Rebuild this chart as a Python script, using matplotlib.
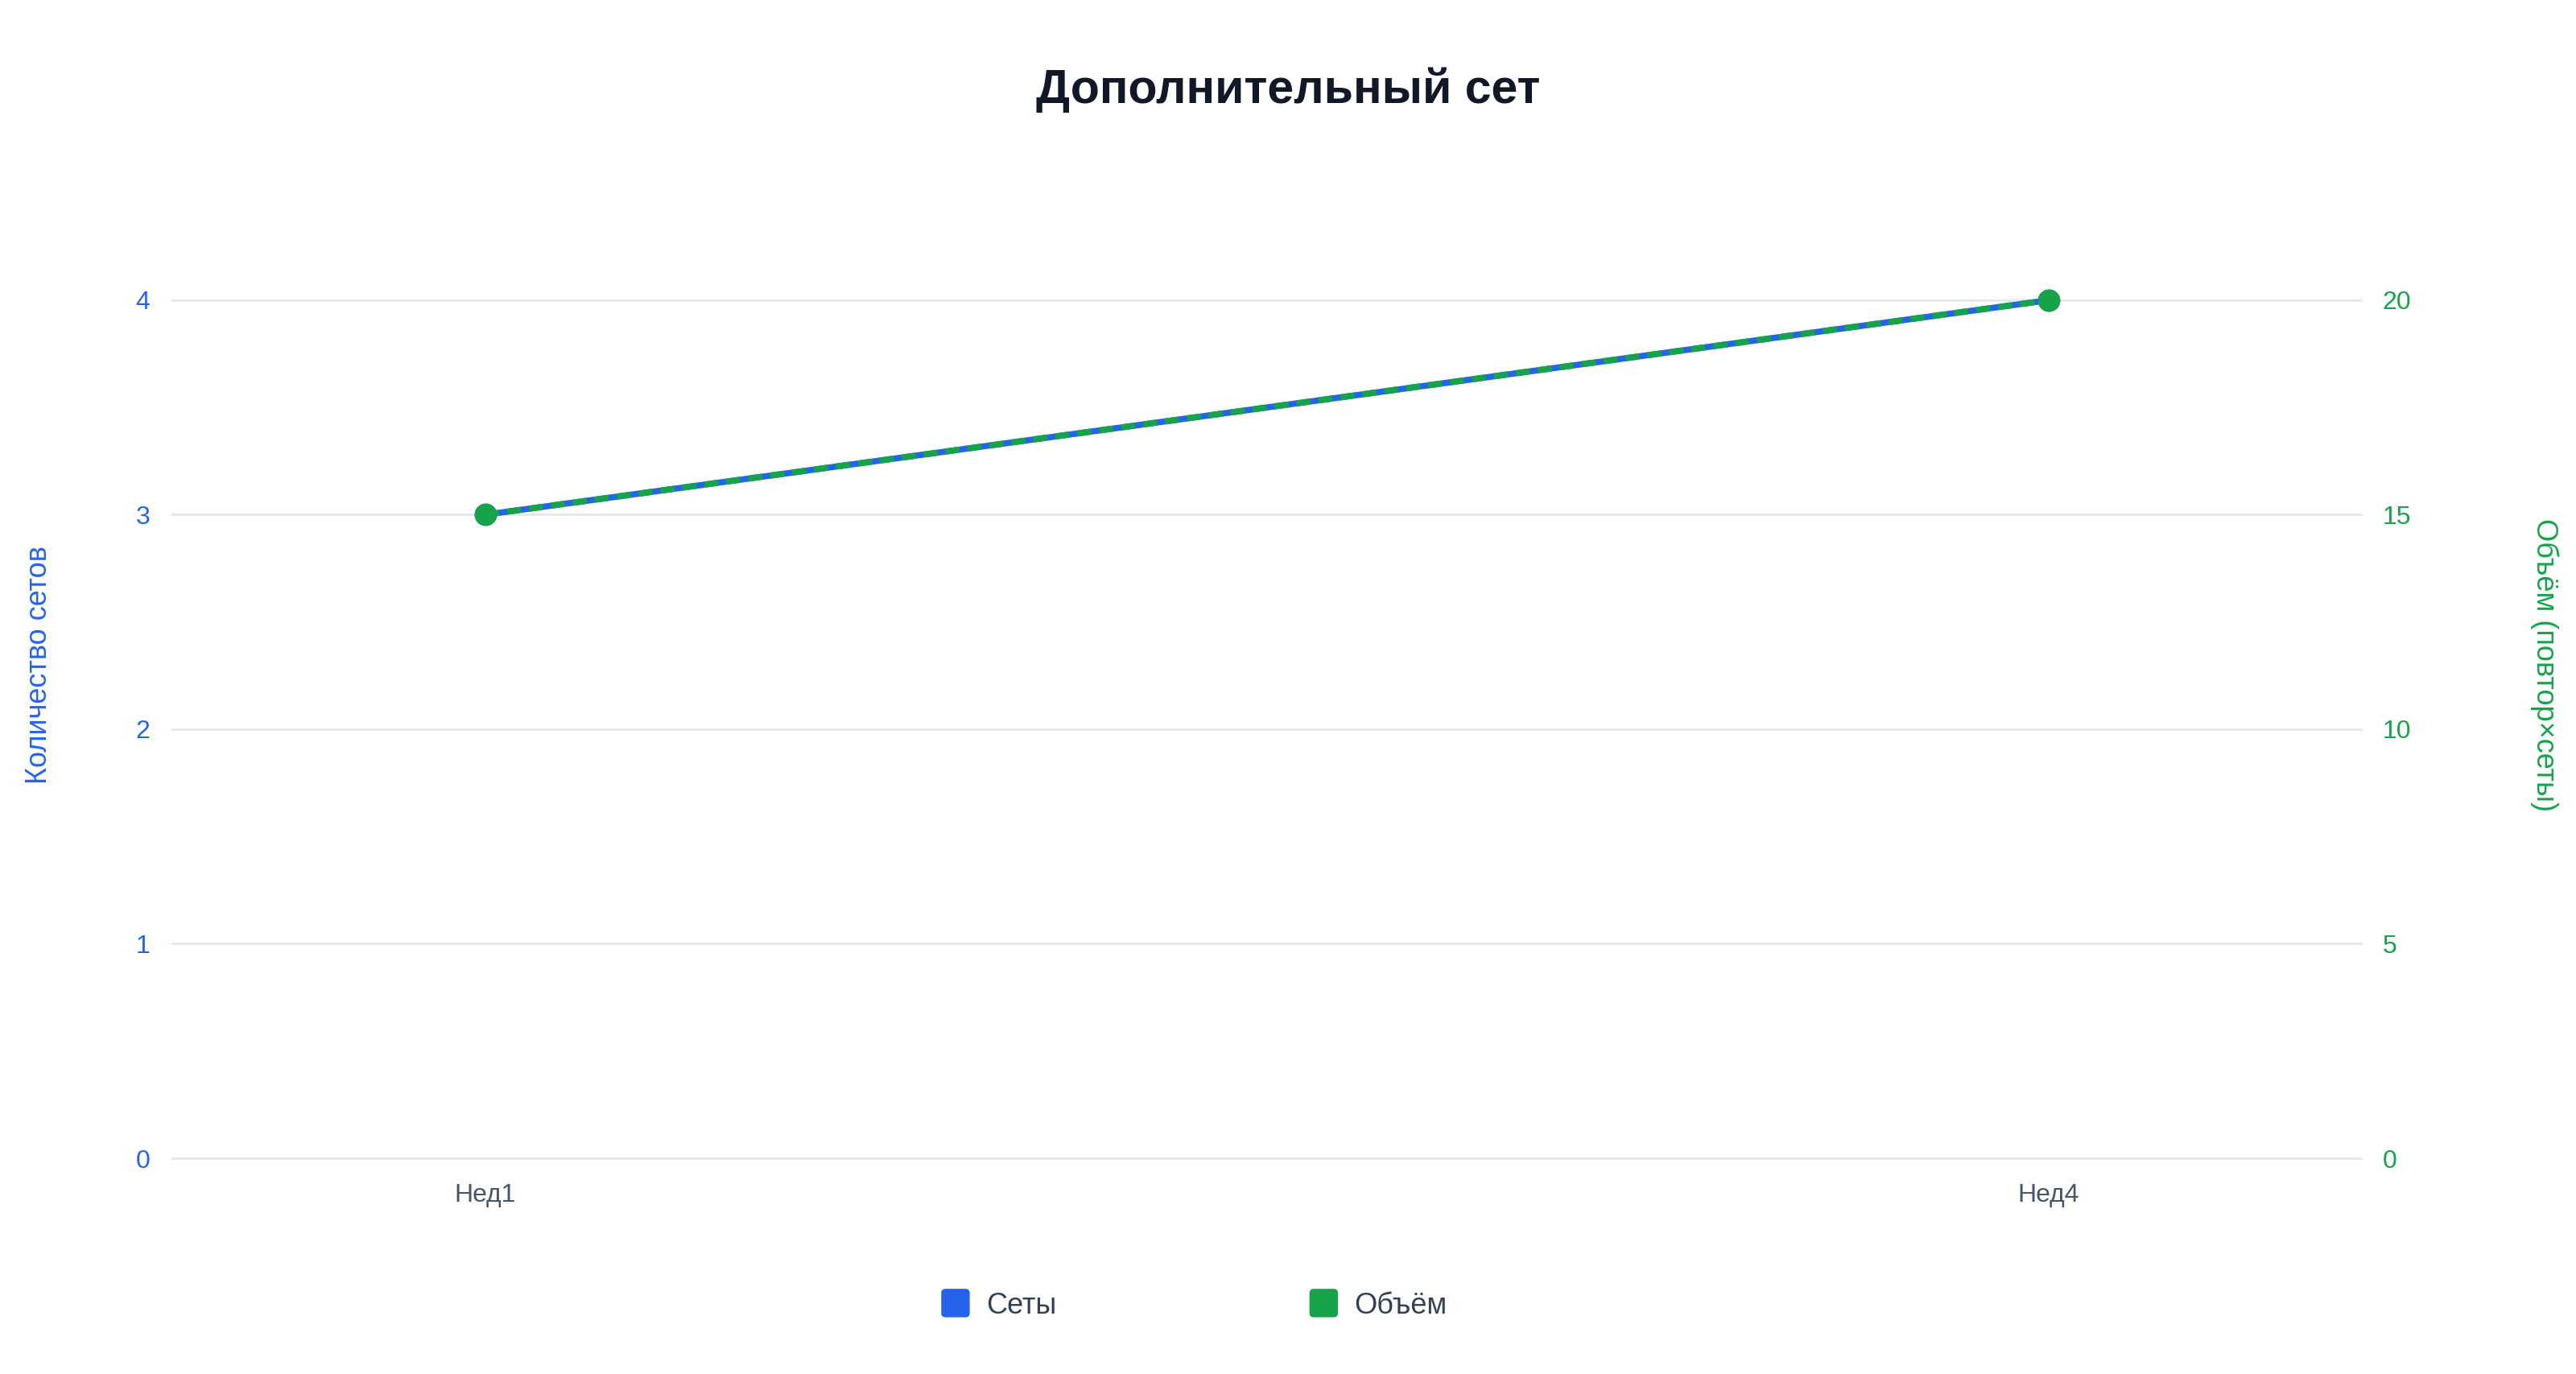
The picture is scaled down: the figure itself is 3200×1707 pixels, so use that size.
import matplotlib
matplotlib.use('Agg')
import matplotlib.pyplot as plt
from matplotlib.patches import FancyBboxPatch, Patch
from matplotlib.legend_handler import HandlerPatch

plt.rcParams['font.family'] = ['Liberation Sans', 'DejaVu Sans']

weeks = ['Нед1', 'Нед4']
sets = [3, 4]
volume = [15, 20]

blue = '#2563eb'
green = '#16a34a'
grid_col = '#e2e8f0'


class RoundBox(HandlerPatch):
    def create_artists(self, legend, orig_handle, xdescent, ydescent,
                       width, height, fontsize, trans):
        s = height * 1.4
        x0 = -xdescent + (width - s) / 2
        y0 = -ydescent + (height - s) / 2
        p = FancyBboxPatch((x0, y0), s, s,
                           boxstyle='round,pad=0,rounding_size=%f' % (s * 0.15),
                           facecolor=orig_handle.get_facecolor(),
                           edgecolor='none', transform=trans)
        return [p]


fig = plt.figure(figsize=(32, 17.07), dpi=100)
fig.patch.set_facecolor('white')

ax = fig.add_axes([0.0669, 0.157, 0.8497, 0.6245])
ax2 = ax.twinx()

x = list(range(len(weeks)))

ax.plot(x, sets, color=blue, linewidth=5.5, marker='o', markersize=19,
        markerfacecolor=blue, markeredgecolor=blue, clip_on=False, zorder=3)
ax2.plot(x, volume, color=green, linewidth=5.5, linestyle=(0, (2.3, 1.3)),
         marker='o', markersize=19, markerfacecolor=green,
         markeredgecolor=green, clip_on=False, zorder=4)

ax.set_xlim(-0.2, 1.2)
ax.set_ylim(0, 4)
ax2.set_ylim(0, 20)
ax.set_yticks([0, 1, 2, 3, 4])
ax2.set_yticks([0, 5, 10, 15, 20])
ax.set_xticks(x)
ax.set_xticklabels(weeks)

ax.grid(axis='y', color=grid_col, linewidth=2)
for gl in ax.get_ygridlines():
    gl.set_clip_on(False)
ax.set_axisbelow(True)

for a in (ax, ax2):
    for sp in a.spines.values():
        sp.set_visible(False)
    a.tick_params(length=0)

ax.tick_params(axis='y', colors=blue, labelsize=23, pad=20)
ax.tick_params(axis='x', colors='#475569', labelsize=23, pad=22)
ax2.tick_params(axis='y', colors=green, labelsize=23, pad=19)

fig.text(49 / 3200, 1 - 826 / 1707, 'Количество сетов', rotation=90,
         ha='center', va='center', fontsize=26, color=blue)
fig.text(3161 / 3200, 1 - 826 / 1707, 'Объём (повтор×сеты)', rotation=270,
         ha='center', va='center', fontsize=26, color=green)

fig.text(0.5, 1 - 112 / 1707, 'Дополнительный сет', ha='center', va='center',
         fontsize=42.5, fontweight='bold', color='#111827')

handles = [Patch(facecolor=blue, label='Сеты'),
           Patch(facecolor=green, label='Объём')]
fig.legend(handles=handles, loc='center', bbox_to_anchor=(0.4635, 1 - 1622 / 1707),
           ncol=2, frameon=False, fontsize=26, labelcolor='#334155',
           handler_map={Patch: RoundBox()}, handlelength=1.0,
           handletextpad=0.55, columnspacing=8.7)

fig.savefig('out.png', dpi=100, facecolor='white')
